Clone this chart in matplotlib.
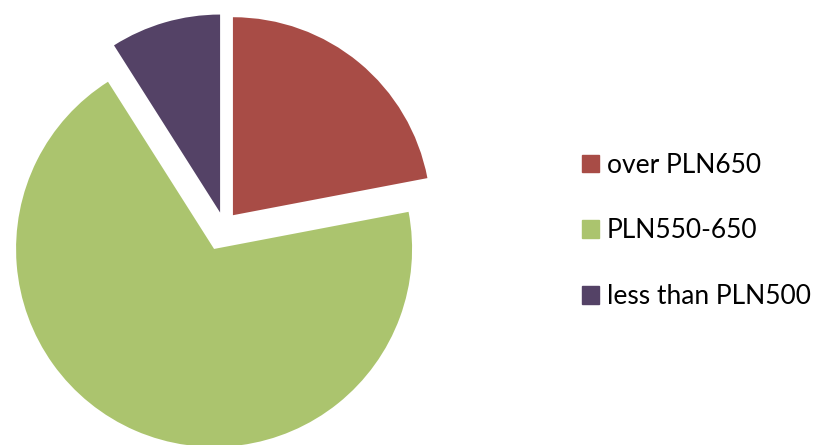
import matplotlib.pyplot as plt
from matplotlib.patches import Patch

plt.rcParams['font.family'] = ['Lato', 'DejaVu Sans']

labels = ['over PLN650', 'PLN550-650', 'less than PLN500']
shares = [22, 69, 9]
colors = ['#A84C46', '#ABC46E', '#544266']
explode = [14, 25, 14]

fig = plt.figure(figsize=(8.16, 4.45), dpi=100)
ax = fig.add_axes([0, 0, 1, 1])

wedges, _ = ax.pie(shares, colors=colors, explode=explode, startangle=90,
                   counterclock=False, radius=198, center=(224, 219))

ax.set_xlim(0, 816)
ax.set_ylim(0, 445)
ax.set_aspect('equal')
ax.axis('off')

fig.legend(handles=[Patch(color=c) for c in colors], labels=labels,
           loc='center left', bbox_to_anchor=(571 / 816, 1 - 231 / 445),
           frameon=False, fontsize=19, handlelength=0.65, handleheight=0.65,
           handletextpad=0.3, labelspacing=1.55, borderaxespad=0)

fig.savefig('out.png', dpi=100)
